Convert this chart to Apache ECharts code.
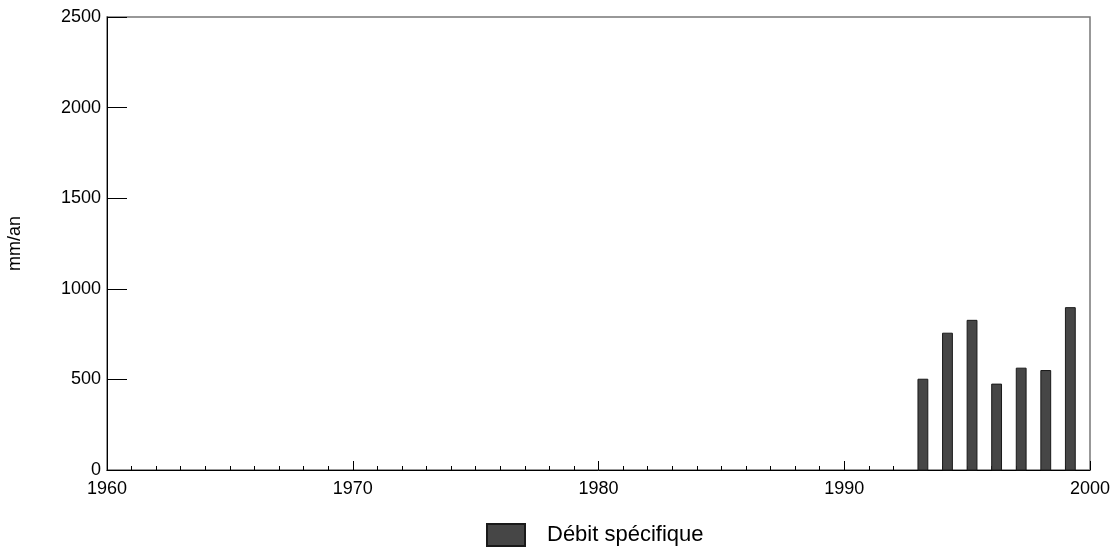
<!DOCTYPE html>
<html>
<head>
<meta charset="utf-8">
<script src="https://cdn.jsdelivr.net/npm/echarts@6/dist/echarts.min.js"></script>
<style>html,body{margin:0;padding:0;background:#fff}#c{width:1113px;height:551px}</style>
</head>
<body>
<div id="c"></div>
<script>
const years = [1993, 1994, 1995, 1996, 1997, 1998, 1999];
const debit = [501, 755, 826, 474, 562, 549, 896];
const yTicks = [0, 500, 1000, 1500, 2000, 2500];
const xTicks = [1960, 1970, 1980, 1990, 2000];
const seriesName = 'Débit spécifique';
const barSpan = 0.4;

const chart = echarts.init(document.getElementById('c'));
const font = 'Liberation Sans, Arial, sans-serif';
chart.setOption({
  animation: false,
  textStyle: { fontFamily: font },
  grid: { left: 107, right: 23, top: 17, bottom: 81, show: true, borderColor: '#777', borderWidth: 1.5, outerBoundsMode: 'none', containLabel: false },
  legend: {
    top: 523, left: 486, padding: 0,
    itemWidth: 38, itemHeight: 22,
    icon: 'rect',
    textStyle: { fontSize: 22, color: '#000', fontFamily: font, padding: [0, 0, 0, 17] },
    data: [seriesName]
  },
  xAxis: {
    type: 'value', min: xTicks[0], max: xTicks[xTicks.length - 1], interval: 10,
    axisLine: { show: true, lineStyle: { color: '#000', width: 1 } },
    axisTick: { show: true, inside: true, length: 9, lineStyle: { color: '#000' } },
    minorTick: { show: true, splitNumber: 10, length: 4, lineStyle: { color: '#000' } },
    splitLine: { show: false },
    axisLabel: { fontSize: 18, color: '#000', margin: 10, fontFamily: font, formatter: v => String(v) }
  },
  yAxis: {
    type: 'value', min: yTicks[0], max: yTicks[yTicks.length - 1], interval: 500,
    name: 'mm/an', nameLocation: 'middle', nameGap: 83, nameRotate: 90,
    nameTextStyle: { fontSize: 18, color: '#000', fontFamily: font },
    axisLine: { show: true, lineStyle: { color: '#000', width: 1 } },
    axisTick: { show: true, inside: true, length: 20, lineStyle: { color: '#000' } },
    splitLine: { show: false },
    axisLabel: { fontSize: 18, color: '#000', margin: 6, fontFamily: font, formatter: v => String(v) }
  },
  series: [{
    name: seriesName,
    type: 'custom',
    itemStyle: { color: '#464646', borderColor: '#1a1a1a', borderWidth: 1 },
    data: years.map((y, i) => [y, debit[i]]),
    encode: { x: 0, y: 1 },
    renderItem: function (params, api) {
      const p0 = api.coord([api.value(0), api.value(1)]);
      const p1 = api.coord([api.value(0) + barSpan, 0]);
      return {
        type: 'rect',
        shape: { x: p0[0], y: p0[1], width: p1[0] - p0[0], height: p1[1] - p0[1] },
        style: { fill: '#464646', stroke: '#1a1a1a', lineWidth: 1 }
      };
    }
  }]
});
</script>
</body>
</html>
